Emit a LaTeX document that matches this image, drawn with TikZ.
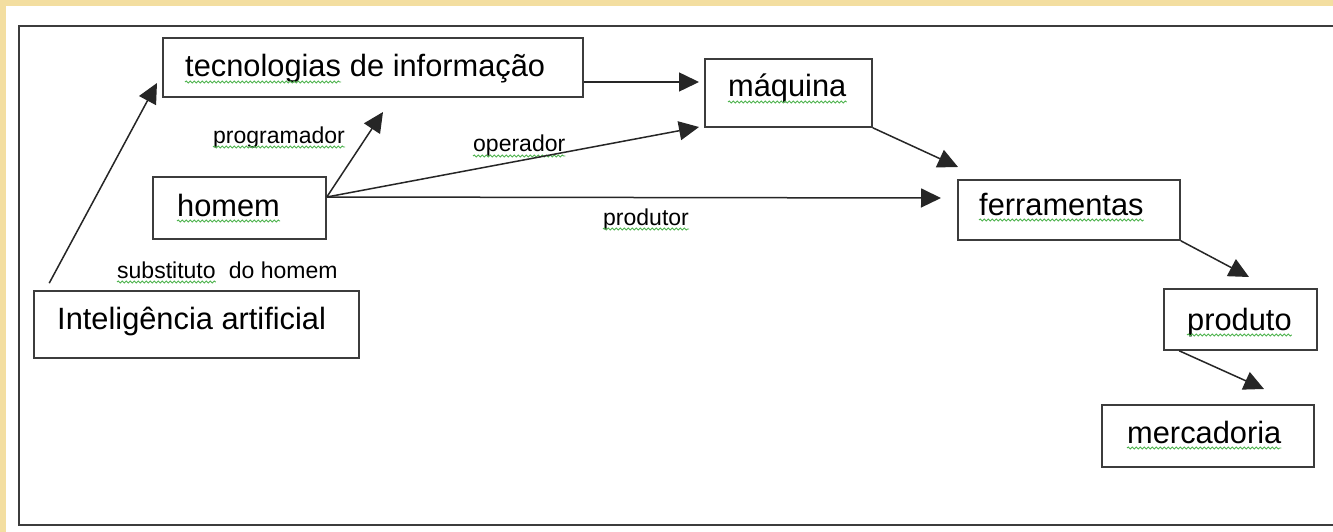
\documentclass[tikz,border=0pt]{standalone}
\usepackage{fontspec}
\setmainfont{Liberation Sans}
\usetikzlibrary{arrows.meta,fit,decorations.pathmorphing}
\definecolor{bgyellow}{RGB}{243,222,160}
\definecolor{framegray}{RGB}{60,60,60}
\definecolor{squiggreen}{RGB}{80,180,80}
\tikzset{
  box/.style={draw=framegray, line width=1.6pt, inner sep=0pt},
  bigtxt/.style={inner sep=0pt, anchor=base west, font=\fontsize{30.8}{36}\selectfont},
  smalltxt/.style={inner sep=0pt, anchor=base west, font=\fontsize{23}{28}\selectfont},
  conn/.style={draw=black!85, line width=1.5pt, -{Triangle[length=20pt,width=19pt]}},
  squig/.style={draw=squiggreen, line width=0.9pt, decorate, decoration={snake, segment length=4pt, amplitude=1pt}}
}
\begin{document}
\begin{tikzpicture}[x=1pt,y=-1pt]
\useasboundingbox (0,0) rectangle (1333,532);
% background
\fill[bgyellow] (0,0) rectangle (1333,532);
\fill[white] (6,6) rectangle (1333,532);
% outer frame
\draw[framegray, line width=2.2pt] (19,26) rectangle (1345,525);

% boxes
\node[box, fit={(163,38) (583,97)}] (tec) {};
\node[box, fit={(705,59) (872,127)}] (maq) {};
\node[box, fit={(153,177) (326,239)}] (hom) {};
\node[box, fit={(34,291) (359,358)}] (ai) {};
\node[box, fit={(958,180) (1180,240)}] (fer) {};
\node[box, fit={(1164,289) (1317,350)}] (prod) {};
\node[box, fit={(1102,405) (1314,467)}] (merc) {};

% box texts
\node[bigtxt] (tTec) at (185,77) {tecnologias};
\node[bigtxt] (tTec2) at (tTec.base east) {\ de informação};
\node[bigtxt] (tMaq) at (728,97) {máquina};
\node[bigtxt] (tHom) at (177,216) {homem};
\node[bigtxt] (tFer) at (979,215) {ferramentas};
\node[bigtxt] (tProd) at (1187,330) {produto};
\node[bigtxt] (tMerc) at (1127,443) {mercadoria};
\node[bigtxt] (tAi) at (57,329) {Inteligência artificial};

% connector labels
\node[smalltxt] (lProg) at (213,143) {programador};
\node[smalltxt] (lOper) at (473,152) {operador};
\node[smalltxt] (lProd) at (603,225) {produtor};
\node[smalltxt] (lSub) at (117,278) {substituto};
\node[smalltxt] (lSub2) at (lSub.base east) {\ \ do homem};

% spell-check squiggles
\foreach \n in {tTec,tMaq,tHom,tFer,tProd,tMerc}
  \draw[squig] ([yshift=-5pt]\n.base west) -- ([yshift=-5pt]\n.base east);
\foreach \n in {lProg,lOper,lProd,lSub}
  \draw[squig] ([yshift=-4pt]\n.base west) -- ([yshift=-4pt]\n.base east);

% free arrow ends
\coordinate (aiS) at ([shift={(16pt,7pt)}]ai.north west);
\coordinate (aiT) at (157,83);
\coordinate (hS) at ([yshift=11pt]hom.east);
\coordinate (progT) at (383,112);
\coordinate (operT) at (699,127);
\coordinate (prodT) at (941,198);
\coordinate (maqT) at (699,82);
\coordinate (ferT) at (958,167);
\coordinate (prodT2) at (1249,277);
\coordinate (prS) at ([xshift=16pt]prod.south west);
\coordinate (mercT) at (1264,389);

% connectors
\draw[conn] (aiS) -- (aiT);
\draw[conn] (hS) -- (progT);
\draw[conn] (hS) -- (operT);
\draw[conn] (hS) -- (prodT);
\draw[conn] (tec.east |- maqT) -- (maqT);
\draw[conn] (maq.south east) -- (ferT);
\draw[conn] (fer.south east) -- (prodT2);
\draw[conn] (prS) -- (mercT);
\end{tikzpicture}
\end{document}
